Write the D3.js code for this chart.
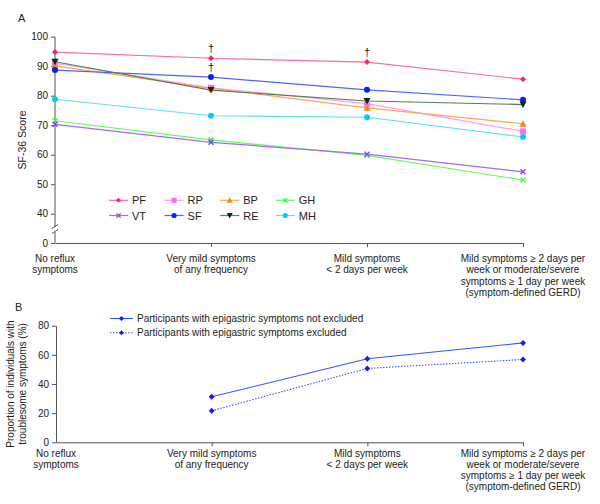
<!DOCTYPE html>
<html><head><meta charset="utf-8">
<script src="https://cdn.jsdelivr.net/npm/d3@7/dist/d3.min.js"></script>
<style>body{margin:0;background:#fff}svg{font-family:"Liberation Sans",Arial,sans-serif}</style>
</head><body><svg id="c" width="600" height="504"></svg>
<script>
const categories = ["No reflux\nsymptoms","Very mild symptoms\nof any frequency","Mild symptoms\n< 2 days per week","Mild symptoms \u2265 2 days per\nweek or moderate/severe\nsymptoms \u2265 1 day per week\n(symptom-defined GERD)"];
const seriesNames = ["PF","RP","BP","GH","VT","SF","RE","MH"];
const PF = [94.8, 92.7, 91.4, 85.6];
const RP = [91.0, 82.7, 77.3, 67.9];
const BP = [90.1, 82.5, 75.9, 70.5];
const GH = [71.5, 65.0, 59.8, 51.4];
const VT = [70.3, 64.2, 60.2, 54.2];
const SF = [88.7, 86.3, 82.0, 78.6];
const RE = [91.5, 81.9, 78.2, 77.0];
const MH = [78.8, 73.2, 72.7, 66.0];
const yTicksA = [0, 40, 50, 60, 70, 80, 90, 100];
const daggers = [{s:"PF", i:1}, {s:"SF", i:1}, {s:"PF", i:2}];
const bNames = ["Participants with epigastric symptoms not excluded","Participants with epigastric symptoms excluded"];
const notExcluded = [null, 31.2, 57.3, 68.2];
const excluded = [null, 21.6, 50.7, 56.8];
const yTicksB = [0, 20, 40, 60, 80];

const seriesData = {PF, RP, BP, GH, VT, SF, RE, MH};
const markerColor = {PF:"#ff1f66",RP:"#ff6cff",BP:"#ff8800",GH:"#33ff33",VT:"#9933ff",SF:"#0022ff",RE:"#003300",MH:"#00ccff"};
const lineColor = {PF:"#ff6b9a",RP:"#ff9cff",BP:"#ffa64d",GH:"#5cff5c",VT:"#a866ff",SF:"#4d66ff",RE:"#5a7a5a",MH:"#5ce0ff"};
const markerShape = {PF:"diamond",RP:"square",BP:"tri",GH:"x",VT:"x",SF:"circle",RE:"tridown",MH:"circle"};

const svg = d3.select("#c");
const x = d3.scalePoint().domain(d3.range(categories.length)).range([55, 523]);

function marker(g, shape, cx, cy, col, s){
  s = s || 1;
  if(shape==="circle"){ g.append("circle").attr("cx",cx).attr("cy",cy).attr("r",3*s).attr("fill",col); }
  else if(shape==="square"){ g.append("rect").attr("x",cx-3*s).attr("y",cy-3*s).attr("width",6*s).attr("height",6*s).attr("fill",col); }
  else if(shape==="diamond"){ g.append("path").attr("d",`M${cx},${cy-3*s}L${cx+3*s},${cy}L${cx},${cy+3*s}L${cx-3*s},${cy}Z`).attr("fill",col); }
  else if(shape==="tri"){ g.append("path").attr("d",`M${cx},${cy-3.5*s}L${cx+3.5*s},${cy+3*s}L${cx-3.5*s},${cy+3*s}Z`).attr("fill",col); }
  else if(shape==="tridown"){ g.append("path").attr("d",`M${cx},${cy+3.5*s}L${cx+3.5*s},${cy-3*s}L${cx-3.5*s},${cy-3*s}Z`).attr("fill",col); }
  else if(shape==="x"){ g.append("path").attr("d",`M${cx-2.5*s},${cy-2.5*s}L${cx+2.5*s},${cy+2.5*s}M${cx-2.5*s},${cy+2.5*s}L${cx+2.5*s},${cy-2.5*s}`).attr("stroke",col).attr("stroke-width",1.3); }
}

function catLabels(g, xs, y0){
  categories.forEach((c,i)=>{
    const t = g.append("text").attr("text-anchor","middle").attr("font-size",10).attr("fill","#222");
    c.split("\n").forEach((ln,k)=>{
      t.append("tspan").attr("x",xs(i)).attr("y",y0 + k*11.3).text(ln);
    });
  });
}

// ---------- Panel A ----------
const yA = d3.scaleLinear().domain([0, 40, 100]).range([243, 213.7, 36.7]);
const gA = svg.append("g");
svg.append("text").attr("x",18).attr("y",22).attr("font-size",11).attr("fill","#222").text("A");

const yAx = gA.append("g").attr("transform","translate(55,0)")
  .call(d3.axisLeft(yA).tickValues(yTicksA).tickSize(4).tickSizeOuter(0));
yAx.select(".domain").remove();
yAx.selectAll("text").attr("font-size",10).attr("fill","#222").attr("font-family","Liberation Sans, Arial, sans-serif");
yAx.selectAll("line").attr("stroke","#555");
gA.append("line").attr("x1",55).attr("x2",55).attr("y1",yA(100)).attr("y2",227).attr("stroke","#555");
gA.append("line").attr("x1",55).attr("x2",55).attr("y1",232).attr("y2",yA(0)).attr("stroke","#555");
gA.append("path").attr("d","M52,228.5L58,224.5M52,233.5L58,229.5").attr("stroke","#555").attr("fill","none");

const xAx = gA.append("g").attr("transform","translate(0,243)")
  .call(d3.axisBottom(x).tickSize(4).tickSizeOuter(0).tickFormat(""));
xAx.select(".domain").attr("stroke","#555");
xAx.selectAll("line").attr("stroke","#555");
xAx.selectAll(".tick").filter(d=>d===0).remove();
catLabels(gA, x, 262);

gA.append("text").attr("transform","translate(26,140) rotate(-90)").attr("text-anchor","middle")
  .attr("font-size",10.5).attr("fill","#222").text("SF-36 Score");

const lineA = d3.line().x((d,i)=>x(i)).y(d=>yA(d));
seriesNames.forEach(s=>{
  gA.append("path").datum(seriesData[s]).attr("d",lineA).attr("fill","none")
    .attr("stroke",lineColor[s]).attr("stroke-width",1.2);
});
seriesNames.forEach(s=>{
  seriesData[s].forEach((v,i)=>marker(gA, markerShape[s], x(i), yA(v), markerColor[s]));
});
daggers.forEach(d=>{
  gA.append("text").attr("x",x(d.i)).attr("y",yA(seriesData[d.s][d.i]) - 6)
    .attr("text-anchor","middle").attr("font-size",11).attr("fill","#111").text("\u2020");
});

seriesNames.forEach((s,k)=>{
  const col = k%4, row = Math.floor(k/4);
  const lx = 109 + col*55.6, ly = 200.3 + row*15.2;
  gA.append("line").attr("x1",lx).attr("x2",lx+19).attr("y1",ly).attr("y2",ly)
    .attr("stroke",lineColor[s]).attr("stroke-width",1.2);
  marker(gA, markerShape[s], lx+9.5, ly, markerColor[s], 0.85);
  gA.append("text").attr("x",lx+23).attr("y",ly+4).attr("font-size",11).attr("fill","#222").text(s);
});

// ---------- Panel B ----------
const yB = d3.scaleLinear().domain([0, 80]).range([442.3, 325.7]);
const gB = svg.append("g");
svg.append("text").attr("x",15).attr("y",311).attr("font-size",11).attr("fill","#222").text("B");

const yBx = gB.append("g").attr("transform","translate(56,0)")
  .call(d3.axisLeft(yB).tickValues(yTicksB).tickSize(4).tickSizeOuter(0));
yBx.select(".domain").attr("stroke","#555");
yBx.selectAll("line").attr("stroke","#555");
yBx.selectAll("text").attr("font-size",10).attr("fill","#222").attr("font-family","Liberation Sans, Arial, sans-serif");

const xB = d3.scalePoint().domain(d3.range(categories.length)).range([56, 523]);
const xBx = gB.append("g").attr("transform","translate(0,442.3)")
  .call(d3.axisBottom(xB).tickSize(4).tickSizeOuter(0).tickFormat(""));
xBx.select(".domain").attr("stroke","#555");
xBx.selectAll("line").attr("stroke","#555");
xBx.selectAll(".tick").filter(d=>d===0).remove();
catLabels(gB, xB, 456.5);

const yl = gB.append("text").attr("transform","translate(0,384) rotate(-90)").attr("text-anchor","middle")
  .attr("font-size",10).attr("fill","#222");
yl.append("tspan").attr("x",0).attr("y",14).text("Proportion of individuals with");
yl.append("tspan").attr("x",0).attr("y",25.5).text("troublesome symptoms (%)");

const lineB = d3.line().defined(d=>d!==null).x((d,i)=>xB(i)).y(d=>yB(d));
const bSeries = [notExcluded, excluded];
const bDash = [null, "1.5,1.5"];
bSeries.forEach((arr,j)=>{
  gB.append("path").datum(arr).attr("d",lineB).attr("fill","none")
    .attr("stroke","#3355ff").attr("stroke-width",1.1).attr("stroke-dasharray",bDash[j]);
  arr.forEach((v,i)=>{ if(v!==null) marker(gB,"diamond",xB(i),yB(v),"#1a1aff"); });
});
bNames.forEach((n,j)=>{
  const ly = 318.5 + j*14.2;
  gB.append("line").attr("x1",110).attr("x2",133).attr("y1",ly).attr("y2",ly)
    .attr("stroke","#3355ff").attr("stroke-width",1.1).attr("stroke-dasharray",bDash[j]);
  marker(gB,"diamond",121.5,ly,"#1a1aff",0.85);
  gB.append("text").attr("x",137).attr("y",ly+3.5).attr("font-size",10).attr("fill","#222").text(n);
});
</script></body></html>
